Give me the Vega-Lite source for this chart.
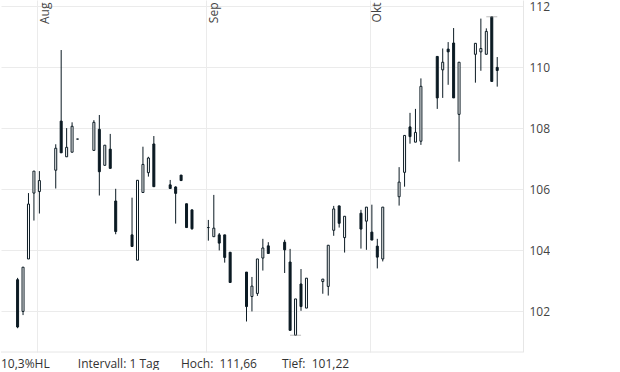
{
  "$schema": "https://vega.github.io/schema/vega-lite/v6.json",
  "width": 522,
  "height": 352,
  "padding": 0,
  "background": "white",
  "config": {
    "view": {"stroke": null},
    "font": "Open Sans",
    "axisX": {
      "grid": true,
      "gridColor": "#ebebeb",
      "gridWidth": 1,
      "domain": false,
      "ticks": false,
      "tickSize": 0,
      "labelAngle": 270,
      "labelAlign": "right",
      "labelBaseline": "top",
      "labelPadding": -2,
      "labelOffset": 2,
      "labelFlush": false,
      "labelOverlap": false,
      "labelFont": "Open Sans",
      "labelFontSize": 12,
      "labelColor": "#444444",
      "title": null
    },
    "axisY": {
      "grid": true,
      "gridColor": "#ebebeb",
      "domain": true,
      "domainColor": "#e6e6e6",
      "ticks": false,
      "labelPadding": 6,
      "labelFont": "Open Sans",
      "labelFontSize": 12,
      "labelColor": "#444444",
      "title": null
    }
  },
  "title": {
    "text": "10,3%HL\u00a0\u00a0\u00a0\u00a0\u00a0\u00a0\u00a0\u00a0\u00a0Intervall: 1 Tag\u00a0\u00a0\u00a0\u00a0\u00a0\u00a0\u00a0Hoch:\u00a0\u00a0111,66\u00a0\u00a0\u00a0\u00a0\u00a0\u00a0\u00a0\u00a0Tief:\u00a0\u00a0101,22",
    "orient": "bottom",
    "anchor": "start",
    "frame": "group",
    "baseline": "top",
    "offset": 6,
    "font": "Open Sans",
    "fontSize": 12,
    "fontWeight": "normal",
    "color": "#333333"
  },
  "datasets": {
    "candles": [
      {"d": "2025-07-28T10:00:00", "o": 103.04, "h": 103.10, "l": 101.45, "c": 101.49},
      {"d": "2025-07-29T10:00:00", "o": 102.00, "h": 103.45, "l": 101.88, "c": 103.45},
      {"d": "2025-07-30T10:00:00", "o": 103.72, "h": 105.88, "l": 103.72, "c": 105.52},
      {"d": "2025-07-31T10:00:00", "o": 105.88, "h": 106.60, "l": 104.98, "c": 106.60},
      {"d": "2025-08-01T10:00:00", "o": 105.93, "h": 106.60, "l": 105.21, "c": 106.29},
      {"d": "2025-08-04T10:00:00", "o": 106.63, "h": 107.48, "l": 106.03, "c": 107.35},
      {"d": "2025-08-05T10:00:00", "o": 108.24, "h": 110.57, "l": 107.20, "c": 107.20},
      {"d": "2025-08-06T10:00:00", "o": 107.07, "h": 108.01, "l": 107.07, "c": 107.38},
      {"d": "2025-08-07T10:00:00", "o": 107.22, "h": 108.20, "l": 107.22, "c": 108.07},
      {"d": "2025-08-08T10:00:00", "o": 107.65, "h": 107.65, "l": 107.65, "c": 107.65},
      {"d": "2025-08-11T10:00:00", "o": 107.28, "h": 108.27, "l": 107.28, "c": 108.20},
      {"d": "2025-08-12T10:00:00", "o": 107.97, "h": 108.44, "l": 105.80, "c": 106.58},
      {"d": "2025-08-13T10:00:00", "o": 106.79, "h": 107.45, "l": 106.79, "c": 107.45},
      {"d": "2025-08-14T10:00:00", "o": 107.32, "h": 107.82, "l": 106.69, "c": 106.69},
      {"d": "2025-08-15T10:00:00", "o": 105.62, "h": 106.02, "l": 104.53, "c": 104.62},
      {"d": "2025-08-18T10:00:00", "o": 104.51, "h": 105.73, "l": 104.13, "c": 104.13},
      {"d": "2025-08-19T10:00:00", "o": 103.68, "h": 106.30, "l": 103.68, "c": 106.30},
      {"d": "2025-08-20T10:00:00", "o": 105.90, "h": 107.40, "l": 105.90, "c": 106.82},
      {"d": "2025-08-21T10:00:00", "o": 106.55, "h": 107.07, "l": 106.42, "c": 107.03},
      {"d": "2025-08-22T10:00:00", "o": 107.49, "h": 107.75, "l": 106.09, "c": 106.09},
      {"d": "2025-08-25T10:00:00", "o": 106.15, "h": 106.31, "l": 106.03, "c": 106.03},
      {"d": "2025-08-26T10:00:00", "o": 106.08, "h": 106.10, "l": 104.88, "c": 105.87},
      {"d": "2025-08-27T10:00:00", "o": 106.47, "h": 106.47, "l": 106.29, "c": 106.29},
      {"d": "2025-08-28T10:00:00", "o": 105.53, "h": 105.53, "l": 104.75, "c": 104.75},
      {"d": "2025-08-29T10:00:00", "o": 105.33, "h": 105.33, "l": 104.68, "c": 104.71},
      {"d": "2025-09-01T10:00:00", "o": 104.75, "h": 105.00, "l": 104.32, "c": 104.75},
      {"d": "2025-09-02T10:00:00", "o": 104.45, "h": 105.82, "l": 104.45, "c": 104.73},
      {"d": "2025-09-03T10:00:00", "o": 104.51, "h": 104.57, "l": 104.00, "c": 104.24},
      {"d": "2025-09-04T10:00:00", "o": 104.51, "h": 104.51, "l": 103.60, "c": 103.77},
      {"d": "2025-09-05T10:00:00", "o": 103.94, "h": 103.94, "l": 102.95, "c": 102.95},
      {"d": "2025-09-08T10:00:00", "o": 103.29, "h": 103.29, "l": 101.67, "c": 102.16},
      {"d": "2025-09-09T10:00:00", "o": 102.49, "h": 103.13, "l": 102.00, "c": 102.83},
      {"d": "2025-09-10T10:00:00", "o": 102.59, "h": 103.72, "l": 102.51, "c": 103.72},
      {"d": "2025-09-11T10:00:00", "o": 103.75, "h": 104.38, "l": 103.34, "c": 104.08},
      {"d": "2025-09-12T10:00:00", "o": 104.15, "h": 104.27, "l": 103.90, "c": 103.90},
      {"d": "2025-09-15T10:00:00", "o": 104.27, "h": 104.35, "l": 103.26, "c": 104.02},
      {"d": "2025-09-16T10:00:00", "o": 103.62, "h": 104.05, "l": 101.38, "c": 101.38},
      {"d": "2025-09-17T10:00:00", "o": 101.22, "h": 102.41, "l": 101.22, "c": 102.41},
      {"d": "2025-09-18T10:00:00", "o": 102.90, "h": 103.39, "l": 102.02, "c": 102.16},
      {"d": "2025-09-19T10:00:00", "o": 102.11, "h": 103.09, "l": 102.11, "c": 103.09},
      {"d": "2025-09-22T10:00:00", "o": 102.98, "h": 103.06, "l": 102.58, "c": 103.06},
      {"d": "2025-09-23T10:00:00", "o": 102.82, "h": 104.17, "l": 102.52, "c": 104.17},
      {"d": "2025-09-24T10:00:00", "o": 104.66, "h": 105.46, "l": 104.48, "c": 105.36},
      {"d": "2025-09-25T10:00:00", "o": 105.46, "h": 105.46, "l": 104.75, "c": 104.89},
      {"d": "2025-09-26T10:00:00", "o": 104.42, "h": 105.12, "l": 103.93, "c": 105.12},
      {"d": "2025-09-29T10:00:00", "o": 105.22, "h": 105.33, "l": 104.06, "c": 104.70},
      {"d": "2025-09-30T10:00:00", "o": 104.96, "h": 105.42, "l": 104.02, "c": 105.42},
      {"d": "2025-10-01T10:00:00", "o": 104.60, "h": 105.50, "l": 104.34, "c": 104.34},
      {"d": "2025-10-02T10:00:00", "o": 104.14, "h": 104.38, "l": 103.41, "c": 103.78},
      {"d": "2025-10-03T10:00:00", "o": 103.72, "h": 105.42, "l": 103.64, "c": 105.42},
      {"d": "2025-10-06T10:00:00", "o": 105.76, "h": 106.73, "l": 105.47, "c": 106.24},
      {"d": "2025-10-07T10:00:00", "o": 106.56, "h": 107.77, "l": 106.09, "c": 107.77},
      {"d": "2025-10-08T10:00:00", "o": 108.05, "h": 108.51, "l": 107.50, "c": 107.73},
      {"d": "2025-10-09T10:00:00", "o": 107.55, "h": 108.64, "l": 107.55, "c": 107.87},
      {"d": "2025-10-10T10:00:00", "o": 107.58, "h": 109.64, "l": 107.46, "c": 109.38},
      {"d": "2025-10-13T10:00:00", "o": 110.36, "h": 110.36, "l": 108.64, "c": 109.00},
      {"d": "2025-10-14T10:00:00", "o": 109.92, "h": 110.62, "l": 109.00, "c": 110.17},
      {"d": "2025-10-15T10:00:00", "o": 110.60, "h": 110.83, "l": 109.43, "c": 110.51},
      {"d": "2025-10-16T10:00:00", "o": 110.80, "h": 111.29, "l": 109.00, "c": 109.00},
      {"d": "2025-10-17T10:00:00", "o": 108.46, "h": 110.17, "l": 106.91, "c": 110.17},
      {"d": "2025-10-20T10:00:00", "o": 110.43, "h": 110.79, "l": 109.50, "c": 110.79},
      {"d": "2025-10-21T10:00:00", "o": 110.51, "h": 111.60, "l": 109.89, "c": 110.62},
      {"d": "2025-10-22T10:00:00", "o": 110.43, "h": 111.28, "l": 110.43, "c": 111.18},
      {"d": "2025-10-23T10:00:00", "o": 111.66, "h": 111.66, "l": 109.54, "c": 109.54},
      {"d": "2025-10-24T10:00:00", "o": 110.00, "h": 110.34, "l": 109.37, "c": 109.90}
    ],
    "extremes": [
      {"d": "2025-09-17T10:00:00", "v": 101.22},
      {"d": "2025-10-23T10:00:00", "v": 111.66}
    ]
  },
  "data": {"name": "candles"},
  "encoding": {
    "x": {
      "field": "d",
      "type": "temporal",
      "scale": {"domain": [
        {"year": 2025, "month": 7, "date": 26, "hours": 7, "minutes": 0},
        {"year": 2025, "month": 10, "date": 28, "hours": 5, "minutes": 30}
      ]},
      "axis": {
        "orient": "top",
        "title": null,
        "values": [
          {"year": 2025, "month": 8, "date": 1},
          {"year": 2025, "month": 9, "date": 1},
          {"year": 2025, "month": 10, "date": 1}
        ],
        "labelExpr": "['Jan','Feb','Mär','Apr','Mai','Jun','Jul','Aug','Sep','Okt','Nov','Dez'][month(datum.value)]"
      }
    }
  },
  "layer": [
    {
      "mark": {"type": "rule", "color": "#0b1a23", "strokeWidth": 1},
      "encoding": {
        "y": {
          "field": "l",
          "type": "quantitative",
          "scale": {"domain": [100.67, 112.21], "zero": false, "nice": false},
          "axis": {
            "orient": "right",
            "title": null,
            "values": [102, 104, 106, 108, 110, 112],
            "format": "d"
          }
        },
        "y2": {"field": "h"}
      }
    },
    {
      "mark": {"type": "bar", "size": 2, "stroke": "#0b1a23", "strokeWidth": 1},
      "encoding": {
        "y": {"field": "o", "type": "quantitative", "axis": {"orient": "right", "title": null, "values": [102, 104, 106, 108, 110, 112], "format": "d"}},
        "y2": {"field": "c"},
        "fill": {
          "condition": {"test": "datum.c >= datum.o", "value": "#ffffff"},
          "value": "#0b1a23"
        }
      }
    },
    {
      "data": {"name": "extremes"},
      "mark": {"type": "tick", "orient": "horizontal", "size": 11, "thickness": 1, "color": "#a0a0a0"},
      "encoding": {
        "y": {"field": "v", "type": "quantitative", "axis": {"orient": "right", "title": null, "values": [102, 104, 106, 108, 110, 112], "format": "d"}}
      }
    },
    {
      "data": {"values": [{"v": 100.67}]},
      "mark": {"type": "rule", "color": "#e6e6e6", "strokeWidth": 1},
      "encoding": {
        "x": null,
        "y": {"field": "v", "type": "quantitative", "axis": {"orient": "right", "title": null, "values": [102, 104, 106, 108, 110, 112], "format": "d"}}
      }
    }
  ]
}
